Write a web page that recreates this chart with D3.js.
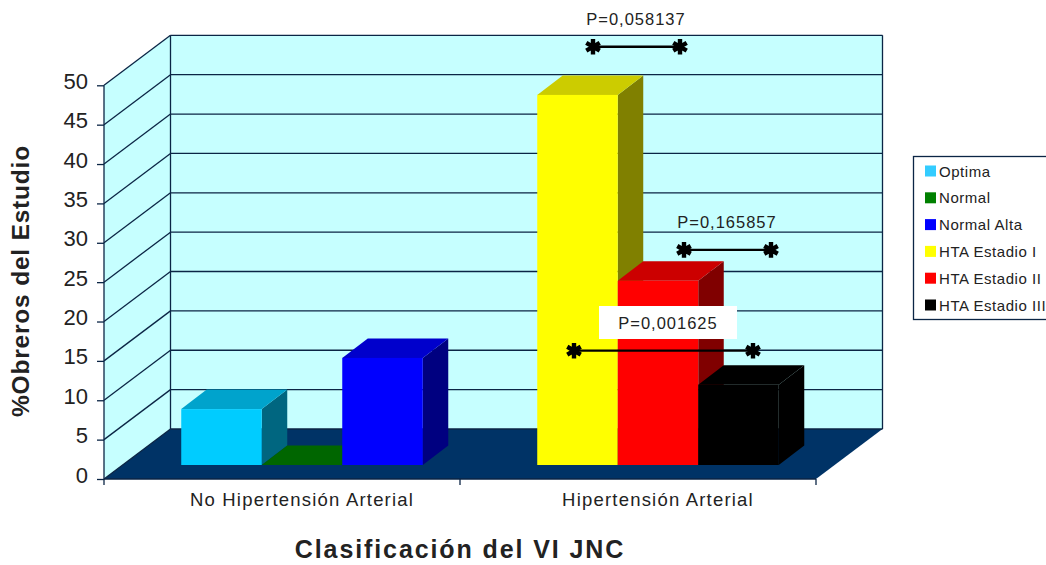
<!DOCTYPE html>
<html>
<head>
<meta charset="utf-8">
<script src="https://cdn.jsdelivr.net/npm/d3@7"></script>
<style>
  body { margin: 0; background: #fff; }
  text { font-family: "Liberation Sans", Arial, sans-serif; fill: #222; }
  .axis path { display: none; }
  .axis line { stroke: #0b2545; stroke-width: 1.3; }
</style>
</head>
<body>
<div id="chart"></div>
<script>
const categories = ["No Hipertensión Arterial", "Hipertensión Arterial"];
const seriesNames = ["Optima", "Normal", "Normal Alta", "HTA Estadio I", "HTA Estadio II", "HTA Estadio III"];
const seriesCategory = [0, 0, 0, 1, 1, 1];
const seriesValues = [7.1, 0, 13.6, 47, 23.4, 10.2];
const seriesColors = ["#00ccff", "#008000", "#0000ff", "#ffff00", "#ff0000", "#000000"];
const yTicks = [0, 5, 10, 15, 20, 25, 30, 35, 40, 45, 50];
const pLabels = ["P=0,058137", "P=0,165857", "P=0,001625"];

const width = 1046, height = 565;
const wallDepth = { x: 66.5, y: -50 };   // front plane -> back wall
const barFront = { x: 20, y: -14 };      // front plane -> front of the bars
const barDepth = { x: 25.5, y: -19.5 };  // front of the bars -> back of the bars
const wallColor = "#c6ffff", floorColor = "#003366", lineColor = "#0b2545";

const svg = d3.select("#chart").append("svg")
  .attr("width", width)
  .attr("height", height)
  .style("display", "block");

const xCat = d3.scaleBand().domain(categories).range([104, 816]);
const xSlot = d3.scaleBand().domain([0, 1, 2]).range([0, xCat.bandwidth()]).paddingInner(0).paddingOuter(0.711);
const y = d3.scaleLinear().domain([0, 50]).range([479, 85.3]);
const left = xCat.range()[0], right = xCat.range()[1];
const poly = pts => pts.map(p => p.join(",")).join(" ");

// walls and floor
svg.append("polygon").attr("fill", wallColor)
  .attr("points", poly([[left, y(0)], [left, y(50)], [left + wallDepth.x, y(50) + wallDepth.y], [left + wallDepth.x, y(0) + wallDepth.y]]));
svg.append("polygon").attr("fill", wallColor)
  .attr("points", poly([[left + wallDepth.x, y(50) + wallDepth.y], [right + wallDepth.x, y(50) + wallDepth.y], [right + wallDepth.x, y(0) + wallDepth.y], [left + wallDepth.x, y(0) + wallDepth.y]]));
svg.append("polygon").attr("fill", floorColor)
  .attr("points", poly([[left, y(0)], [right, y(0)], [right + wallDepth.x, y(0) + wallDepth.y], [left + wallDepth.x, y(0) + wallDepth.y]]));

// grid on both walls
const grid = svg.append("g").attr("stroke", lineColor).attr("stroke-width", 1.3).attr("fill", "none");
grid.selectAll(".side").data(yTicks).enter().append("line")
  .attr("x1", left).attr("y1", d => y(d))
  .attr("x2", left + wallDepth.x).attr("y2", d => y(d) + wallDepth.y);
grid.selectAll(".back").data(yTicks).enter().append("line")
  .attr("x1", left + wallDepth.x).attr("y1", d => y(d) + wallDepth.y)
  .attr("x2", right + wallDepth.x).attr("y2", d => y(d) + wallDepth.y);
grid.append("line")
  .attr("x1", left + wallDepth.x).attr("x2", left + wallDepth.x)
  .attr("y1", y(0) + wallDepth.y).attr("y2", y(50) + wallDepth.y);
grid.append("line")
  .attr("x1", right + wallDepth.x).attr("x2", right + wallDepth.x)
  .attr("y1", y(0) + wallDepth.y).attr("y2", y(50) + wallDepth.y);

// bars, drawn left to right so each one hides the side of the previous
const bars = seriesNames.map((name, i) => {
  const cat = categories[seriesCategory[i]];
  const x0 = xCat(cat) + xSlot(i % 3) + barFront.x;
  return {
    name, color: seriesColors[i], value: seriesValues[i],
    x0, x1: x0 + xSlot.bandwidth(),
    yBase: y(0) + barFront.y,
    yTop: y(seriesValues[i]) + barFront.y
  };
});
const shade = (c, k) => {
  const r = d3.rgb(c);
  return d3.rgb(r.r * k, r.g * k, r.b * k).formatHex();
};
const barG = svg.selectAll(".bar").data(bars).enter().append("g").attr("class", "bar");
barG.append("polygon").attr("fill", d => shade(d.color, 0.5))
  .attr("points", d => poly([[d.x1, d.yBase], [d.x1, d.yTop], [d.x1 + barDepth.x, d.yTop + barDepth.y], [d.x1 + barDepth.x, d.yBase + barDepth.y]]));
barG.append("polygon").attr("fill", d => shade(d.color, 0.8))
  .attr("points", d => poly([[d.x0, d.yTop], [d.x1, d.yTop], [d.x1 + barDepth.x, d.yTop + barDepth.y], [d.x0 + barDepth.x, d.yTop + barDepth.y]]));
barG.append("rect").attr("fill", d => d.color)
  .attr("x", d => d.x0).attr("y", d => d.yTop)
  .attr("width", d => d.x1 - d.x0).attr("height", d => d.yBase - d.yTop);

// axes
svg.append("g").attr("class", "axis")
  .attr("transform", `translate(${left},0)`)
  .call(d3.axisLeft(y).tickValues(yTicks).tickSize(7).tickPadding(9))
  .call(g => g.selectAll("text").style("font-size", "22px").style("font-family", "Liberation Sans").attr("dy", "0.14em").attr("fill", "#333"));
svg.append("line").attr("stroke", lineColor).attr("stroke-width", 1.3)
  .attr("x1", left).attr("x2", left).attr("y1", y(0)).attr("y2", y(50));
svg.append("line").attr("stroke", lineColor).attr("stroke-width", 1.3)
  .attr("x1", left).attr("x2", right).attr("y1", y(0)).attr("y2", y(0));
svg.append("g").attr("class", "axis")
  .attr("transform", `translate(0,${y(0)})`)
  .call(d3.axisBottom(xCat).tickSize(0).tickPadding(14))
  .call(g => g.selectAll("text").style("font-size", "18.5px").style("letter-spacing", "1.2px").style("font-family", "Liberation Sans").attr("x", barFront.x).attr("fill", "#333"));
svg.selectAll(".catTick").data([left, left + xCat.step(), right]).enter().append("line")
  .attr("stroke", lineColor).attr("stroke-width", 1.3)
  .attr("x1", d => d).attr("x2", d => d).attr("y1", y(0)).attr("y2", y(0) + 6);

// axis titles
svg.append("text").attr("transform", "translate(23,281) rotate(-90)")
  .attr("text-anchor", "middle").attr("dominant-baseline", "middle")
  .attr("font-weight", "bold").attr("font-size", 24.5).style("letter-spacing", "0.8px").text("%Obreros del Estudio");
svg.append("text").attr("x", 460).attr("y", 558).attr("text-anchor", "middle")
  .attr("font-weight", "bold").attr("font-size", 25).style("letter-spacing", "1.9px").text("Clasificación del VI JNC");

// significance brackets, x in pixels along the chart, level in axis units
const brackets = [
  { label: pLabels[0], x1: 593, x2: 680, level: 54.9, tx: 636, ty: 25 },
  { label: pLabels[1], x1: 684, x2: 771, level: 29.1, tx: 727, ty: 228 },
  { label: pLabels[2], x1: 574, x2: 753, level: 16.3, tx: 668, ty: 329, box: [599, 306, 138, 33] }
];
const annot = svg.selectAll(".bracket").data(brackets).enter().append("g").attr("class", "bracket");
annot.filter(d => d.box).append("rect").attr("fill", "#fff")
  .attr("x", d => d.box[0]).attr("y", d => d.box[1])
  .attr("width", d => d.box[2]).attr("height", d => d.box[3]);
annot.append("text").attr("x", d => d.tx).attr("y", d => d.ty)
  .attr("text-anchor", "middle").attr("font-size", 16.5).style("letter-spacing", "1px").attr("fill", "#333").text(d => d.label);
annot.append("line").attr("stroke", "#000").attr("stroke-width", 2.4)
  .attr("x1", d => d.x1).attr("x2", d => d.x2)
  .attr("y1", d => y(d.level)).attr("y2", d => y(d.level));
const star = d3.symbol().type(d3.symbolAsterisk).size(170);
annot.selectAll(".star").data(d => [[d.x1, y(d.level)], [d.x2, y(d.level)]]).enter().append("path")
  .attr("d", star).attr("stroke", "#000").attr("stroke-width", 4.4).attr("fill", "none")
  .attr("transform", d => `translate(${d[0]},${d[1]})`);

// legend
const legendRow = d3.scalePoint().domain(seriesNames).range([171, 305]);
svg.append("rect").attr("x", 913.5).attr("y", 156.5).attr("width", 140).attr("height", 163)
  .attr("fill", "#fff").attr("stroke", lineColor).attr("stroke-width", 1.3);
const legend = svg.selectAll(".legendItem").data(seriesNames).enter().append("g")
  .attr("class", "legendItem").attr("transform", d => `translate(925,${legendRow(d)})`);
legend.append("rect").attr("x", 0).attr("y", -5.5).attr("width", 11).attr("height", 11)
  .attr("fill", (d, i) => i === 0 ? "#33ccff" : seriesColors[i]);
legend.append("text").attr("x", 14).attr("y", 5.5).attr("font-size", 15).style("letter-spacing", "0.55px").text(d => d);
</script>
</body>
</html>
